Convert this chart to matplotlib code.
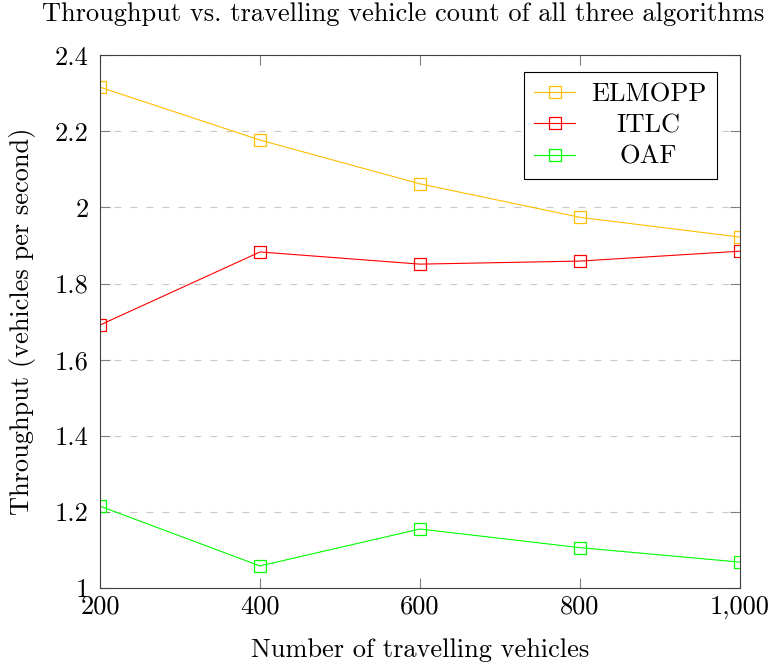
import matplotlib
matplotlib.use("Agg")
import matplotlib.pyplot as plt
from matplotlib.ticker import FuncFormatter, MultipleLocator

# Data
vehicles = [200, 400, 600, 800, 1000]
elmopp = [2.316, 2.177, 2.062, 1.974, 1.922]
itlc = [1.691, 1.883, 1.851, 1.859, 1.885]
oaf = [1.215, 1.058, 1.155, 1.106, 1.068]

plt.rcParams["font.family"] = "cmr10"
plt.rcParams["mathtext.fontset"] = "cm"
plt.rcParams["axes.formatter.use_mathtext"] = True

FS = 19

fig = plt.figure(figsize=(7.83, 6.65), dpi=100)
ax = fig.add_axes([0.1277, 0.1158, 0.8173, 0.8012])

series = [("ELMOPP", elmopp, "#ffbf00"), ("ITLC", itlc, "#ff0000"), ("OAF", oaf, "#00ff00")]
for name, vals, col in series:
    ax.plot(vehicles, vals, color=col, lw=0.8, marker="s", markersize=8.5,
            markerfacecolor="none", markeredgecolor=col, markeredgewidth=0.9,
            label=name)

ax.set_xlim(200, 1000)
ax.set_ylim(1, 2.4)
ax.xaxis.set_major_locator(MultipleLocator(200))
ax.yaxis.set_major_locator(MultipleLocator(0.2))
ax.xaxis.set_major_formatter(FuncFormatter(lambda v, p: "{:,}".format(int(round(v)))))
ax.yaxis.set_major_formatter(FuncFormatter(lambda v, p: "%g" % round(v, 2)))

ax.yaxis.grid(True, color="#c8c8c8", linestyle=(2, (6.3, 8.1)), lw=0.8)
ax.set_axisbelow(True)
ax.tick_params(direction="in", top=True, right=True, length=7, color="#808080",
               labelsize=FS)
ax.tick_params(axis="x", pad=5)
ax.tick_params(axis="y", pad=8)
for s in ax.spines.values():
    s.set_color("#404040")
    s.set_linewidth(0.8)

ax.set_xlabel("Number of travelling vehicles", fontsize=FS, labelpad=14)
ax.set_ylabel("Throughput (vehicles per second)", fontsize=FS, labelpad=14)
# title sits a bit left of the axes centre in the reference
fig.text(403 / 783, 1 - 14 / 665, "Throughput vs. travelling vehicle count of all three algorithms",
         fontsize=FS, ha="center", va="center")

leg = ax.legend(loc="upper right", bbox_to_anchor=(0.964, 0.968), borderaxespad=0,
                fontsize=FS, frameon=True, fancybox=False,
                edgecolor="black", framealpha=1,
                handlelength=1.55, handletextpad=0.6, labelspacing=0.28,
                borderpad=0.4, markerscale=0.95)
leg.get_frame().set_linewidth(0.8)

# centre the legend labels within their column (like the reference)
fig.canvas.draw()
rend = fig.canvas.get_renderer()
widths = [t.get_window_extent(rend).width for t in leg.get_texts()]
wmax = max(widths)
for t, w in zip(leg.get_texts(), widths):
    t.set_x((wmax - w) / 2)

fig.savefig("out.png", dpi=100)
